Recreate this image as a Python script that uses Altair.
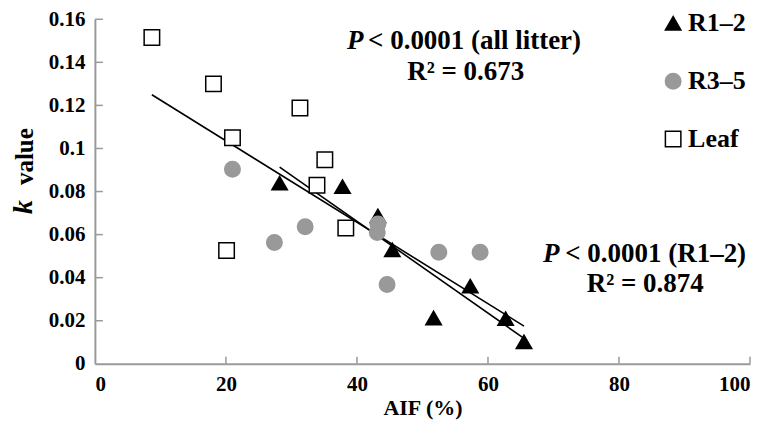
import altair as alt
import pandas as pd

# ---- data ----
r12_x = [28.2, 37.8, 43.2, 45.4, 57.3, 51.7, 62.7, 65.5]
r12_y = [0.0839, 0.0823, 0.0687, 0.0529, 0.0361, 0.0213, 0.0210, 0.0102]
r35_x = [21.0, 27.4, 32.1, 43.2, 43.1, 52.5, 58.8, 44.6]
r35_y = [0.0903, 0.0563, 0.0637, 0.0649, 0.0610, 0.0518, 0.0518, 0.0368]
leaf_x = [8.7, 18.1, 31.3, 21.0, 35.1, 33.9, 38.3, 20.1]
leaf_y = [0.1515, 0.1300, 0.1188, 0.1050, 0.0948, 0.0829, 0.0631, 0.0526]

groups = ["R1–2", "R3–5", "Leaf"]
y_ticks = [0.02, 0.04, 0.06, 0.08, 0.10, 0.12, 0.14, 0.16]
x_ticks = [20, 40, 60, 80, 100]

ann_text = ["P", "< 0.0001 (all litter)", "R² = 0.673", "P", "< 0.0001 (R1–2)", "R² = 0.874"]
ann_x = [41.0, 41.7, 56.6, 70.9, 71.8, 84.0]
ann_y = [0.1464, 0.1464, 0.1316, 0.0472, 0.0472, 0.0333]
ann_style = ["italic", "normal", "normal", "italic", "normal", "normal"]
ann_align = ["right", "left", "center", "right", "left", "center"]

W, H = 656, 345
FONT = "Liberation Serif"

df = pd.DataFrame({
    "aif": r12_x + r35_x + leaf_x,
    "k": r12_y + r35_y + leaf_y,
    "group": [groups[0]] * len(r12_x) + [groups[1]] * len(r35_x) + [groups[2]] * len(leaf_x),
})

xs = alt.Scale(domain=[0, 100], nice=False)
ys = alt.Scale(domain=[0, 0.16], nice=False)

X = alt.X("aif:Q", scale=xs, axis=alt.Axis(
    values=[0] + x_ticks, ticks=False, tickSize=0, grid=False, title="AIF (%)",
    labelFont=FONT, labelFontWeight="bold", labelFontSize=21, labelColor="black",
    labelPadding=10, domainColor="#9a9a9a", domainWidth=2,
    titleFont=FONT, titleFontWeight="bold", titleFontSize=22, titleColor="black",
    titlePadding=3))
Y = alt.Y("k:Q", scale=ys, axis=alt.Axis(
    values=[0] + y_ticks, ticks=False, tickSize=0, grid=False, title=None,
    labelExpr="format(datum.value, '.2~f')",
    labelFont=FONT, labelFontWeight="bold", labelFontSize=21, labelColor="black",
    labelPadding=10, domainColor="#9a9a9a", domainWidth=2))

points = alt.Chart(df).mark_point(filled=False, opacity=1, strokeWidth=1.5).encode(
    x=X, y=Y,
    shape=alt.Shape("group:N", scale=alt.Scale(domain=groups, range=["triangle-up", "circle", "square"]),
                    legend=alt.Legend(title=None, orient="none", legendX=566, legendY=-9,
                                      labelFont=FONT, labelFontWeight="bold", labelFontSize=26,
                                      labelColor="black", symbolSize=240, rowPadding=32,
                                      labelOffset=2, symbolStrokeWidth=1.5)),
    fill=alt.Fill("group:N", scale=alt.Scale(domain=groups, range=["black", "#999999", "white"])),
    stroke=alt.Stroke("group:N", scale=alt.Scale(domain=groups, range=["black", "#999999", "black"])),
    size=alt.value(240),
)

line_all = alt.Chart(df).transform_regression("aif", "k").mark_line(color="black", strokeWidth=1.6).encode(
    x=alt.X("aif:Q", scale=xs), y=alt.Y("k:Q", scale=ys))
line_r12 = alt.Chart(df).transform_filter(alt.datum.group == groups[0]).transform_regression(
    "aif", "k").mark_line(color="black", strokeWidth=1.6).encode(
    x=alt.X("aif:Q", scale=xs), y=alt.Y("k:Q", scale=ys))

ytick_df = pd.DataFrame({"v": y_ticks})
xtick_df = pd.DataFrame({"v": x_ticks})
yt = alt.Chart(ytick_df).mark_rule(color="#9a9a9a", strokeWidth=1.5).encode(
    y=alt.Y("v:Q", scale=ys), x=alt.value(0), x2=alt.value(8))
xt = alt.Chart(xtick_df).mark_rule(color="#9a9a9a", strokeWidth=1.5).encode(
    x=alt.X("v:Q", scale=xs), y=alt.value(H), y2=alt.value(H - 7))

ann_df = pd.DataFrame({"t": ann_text, "x": ann_x, "y": ann_y, "st": ann_style, "al": ann_align})
ann_layers = []
for st in ["italic", "normal"]:
    for al in ["right", "left", "center"]:
        sub = ann_df[(ann_df.st == st) & (ann_df.al == al)]
        if len(sub) == 0:
            continue
        ann_layers.append(alt.Chart(sub).mark_text(
            font=FONT, fontWeight="bold", fontStyle=st, fontSize=27, align=al,
            baseline="alphabetic", color="black").encode(
            x=alt.X("x:Q", scale=xs), y=alt.Y("y:Q", scale=ys), text="t:N"))

ytitle_df = pd.DataFrame({"t": ["k", "value"], "st": ["italic", "normal"], "py": [195, 166]})
yk = alt.Chart(ytitle_df[ytitle_df.st == "italic"]).mark_text(
    font=FONT, fontWeight="bold", fontStyle="italic", fontSize=28, angle=270, align="left",
    baseline="middle", color="black").encode(x=alt.value(-71), y=alt.Y("py:Q", scale=None), text="t:N")
yv = alt.Chart(ytitle_df[ytitle_df.st == "normal"]).mark_text(
    font=FONT, fontWeight="bold", fontSize=25, angle=270, align="left",
    baseline="middle", color="black").encode(x=alt.value(-70), y=alt.Y("py:Q", scale=None), text="t:N")

chart = alt.layer(line_all, line_r12, yt, xt, points, *ann_layers, yk, yv).properties(
    width=W, height=H, autosize=alt.AutoSizeParams(type="none"),
    padding={"left": 87, "top": 11, "right": 20, "bottom": 72},
).configure_view(stroke=None).resolve_scale(shape="shared")

chart.save("out.html", embed_options={"renderer": "svg", "actions": False})
